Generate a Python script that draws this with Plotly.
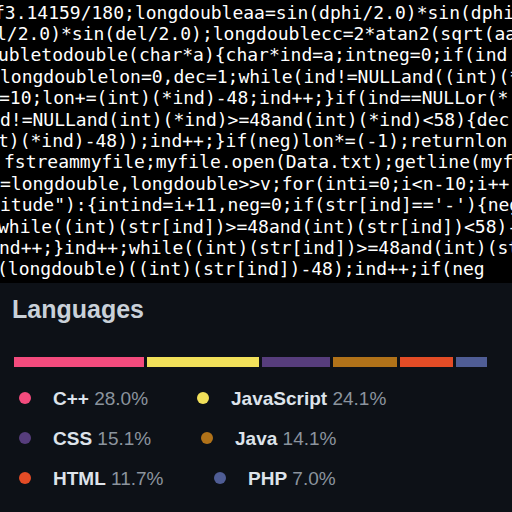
import plotly.graph_objects as go

languages = ["C++", "JavaScript", "CSS", "Java", "HTML", "PHP"]
percents = [28.0, 24.1, 15.1, 14.1, 11.7, 7.0]
colors = ["#f34b7d", "#f1e05a", "#563d7c", "#b07219", "#e34c26", "#4F5D95"]

code_lines = [
    "f3.14159/180;longdoubleaa=sin(dphi/2.0)*sin(dphi/2.0)",
    "l/2.0)*sin(del/2.0);longdoublecc=2*atan2(sqrt(aa),",
    "ubletodouble(char*a){char*ind=a;intneg=0;if(ind",
    "longdoublelon=0,dec=1;while(ind!=NULLand((int)(*",
    "=10;lon+=(int)(*ind)-48;ind++;}if(ind==NULLor(*",
    "d!=NULLand(int)(*ind)>=48and(int)(*ind)<58){dec",
    "t)(*ind)-48));ind++;}if(neg)lon*=(-1);returnlon",
    "fstreammyfile;myfile.open(Data.txt);getline(myf",
    "=longdouble,longdouble>>v;for(inti=0;i<n-10;i++",
    "itude\"):{intind=i+11,neg=0;if(str[ind]=='-'){neg",
    "while((int)(str[ind])>=48and(int)(str[ind])<58)-",
    "nd++;}ind++;while((int)(str[ind])>=48and(int)(str",
    "(longdouble)((int)(str[ind])-48);ind++;if(neg",
]
line_offsets = [-8, -6, -4, -2, -3, -2, -4, 2, -2, -2, -4, -3, -5]

W = H = 512
fig = go.Figure()

for lang, p, c in zip(languages, percents, colors):
    fig.add_trace(go.Bar(x=[p], y=[0], orientation="h", marker=dict(color=c, line=dict(color="#0d1117", width=3)),
                         width=1, xaxis="x2", yaxis="y2", showlegend=False, hoverinfo="skip"))

shapes = [dict(type="rect", xref="x", yref="y", x0=0, x1=512, y0=283, y1=512, fillcolor="#0d1117", line_width=0, layer="below")]
ann = []
for i, (t, off) in enumerate(zip(code_lines, line_offsets)):
    ann.append(dict(x=off / W, y=12 + 21.4 * i, xref="paper", yref="y", text=t, showarrow=False, xanchor="left", yanchor="middle",
                    font=dict(family="DejaVu Sans Mono", size=18, color="#ffffff")))
ann.append(dict(x=10, y=309, xref="x", yref="y", text="<b>Languages</b>", showarrow=False, xanchor="left", yanchor="middle",
                font=dict(family="Liberation Sans", size=25, color="#c9d1d9")))

dot_x = [25, 203, 25, 207, 25, 220]
dot_y = [398, 398, 438, 438, 478, 478]
fig.add_trace(go.Scatter(x=dot_x, y=dot_y, mode="markers", marker=dict(size=12, color=colors), showlegend=False, hoverinfo="skip"))
for lang, p, dx, dy in zip(languages, percents, dot_x, dot_y):
    ann.append(dict(x=dx + 26, y=dy, xref="x", yref="y", showarrow=False, xanchor="left", yanchor="middle",
                    text=f"<b>{lang}</b> <span style='color:#8b949e'>{p:.1f}%</span>",
                    font=dict(family="Liberation Sans", size=19, color="#dde3ea")))

fig.update_layout(
    width=W, height=H, margin=dict(l=0, r=0, t=0, b=0), paper_bgcolor="#000000", plot_bgcolor="rgba(0,0,0,0)",
    barmode="stack", shapes=shapes, annotations=ann,
    xaxis=dict(range=[0, 512], visible=False, fixedrange=True),
    yaxis=dict(range=[512, 0], visible=False, fixedrange=True),
    xaxis2=dict(domain=[12 / 512, 488 / 512], range=[0, 100], visible=False, anchor="y2"),
    yaxis2=dict(domain=[144 / 512, 157 / 512], range=[-0.5, 0.5], visible=False, anchor="x2"),
)
fig.write_html("out.html", config={"displayModeBar": False},
               post_script="document.body.style.margin='0';document.body.style.overflow='hidden';")
